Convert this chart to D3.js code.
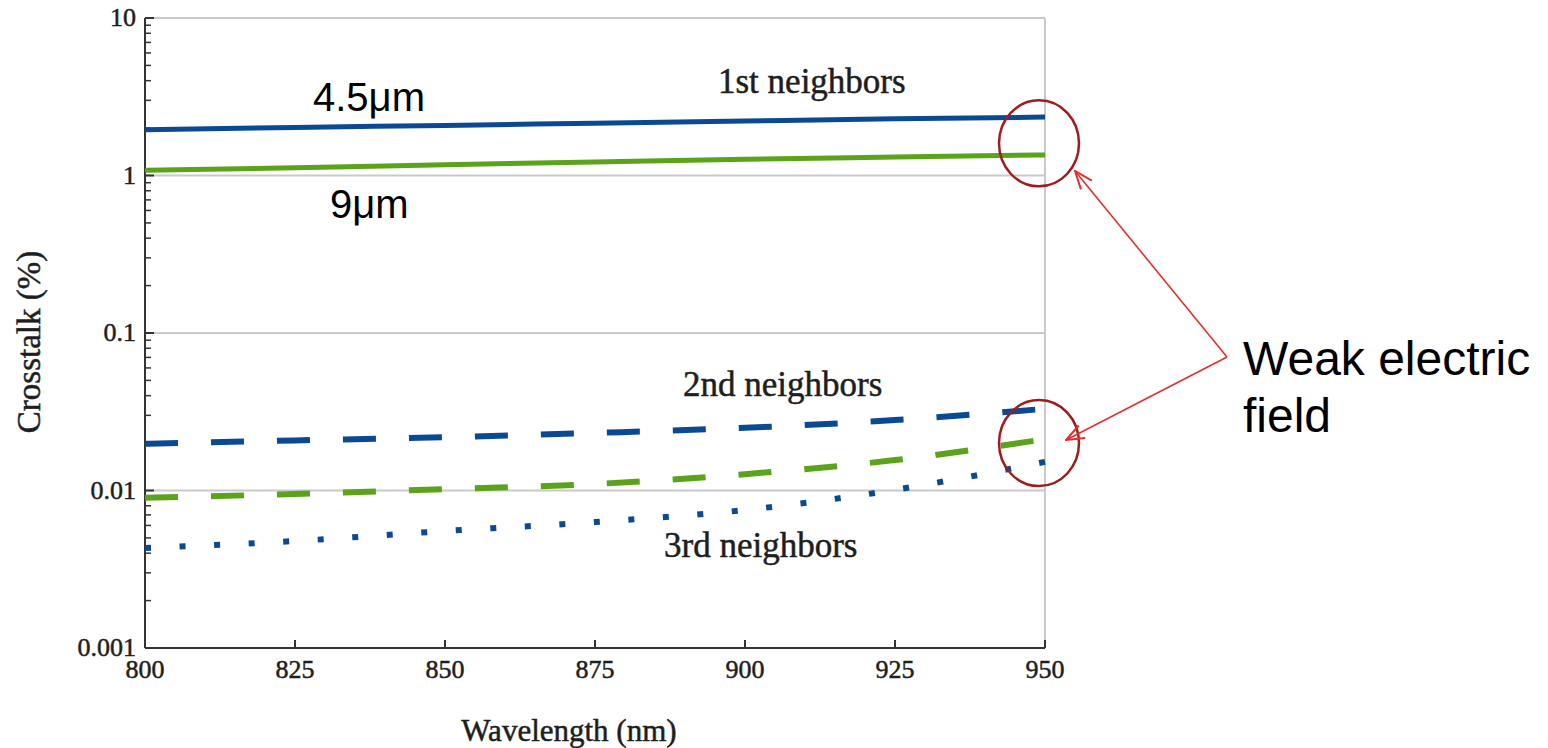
<!DOCTYPE html>
<html>
<head>
<meta charset="utf-8">
<script src="https://cdn.jsdelivr.net/npm/d3@7"></script>
<style>
  html, body { margin: 0; padding: 0; background: #fff; }
  svg { display: block; }
  .serif { font-family: 'Liberation Serif', 'Times New Roman', serif; fill: #1e1e1e; stroke: #1e1e1e; stroke-width: 0.5px; }
  .sans { font-family: 'Liberation Sans', Arial, sans-serif; fill: #000; }
</style>
</head>
<body>
<svg id="chart" width="1548" height="748"></svg>
<script>
// Wavelength samples (nm)
const wavelengths = [800, 825, 850, 875, 900, 925, 950];

// Crosstalk (%) per neighbor order and pixel pitch
const first45 = [1.95, 2.02, 2.08, 2.15, 2.22, 2.29, 2.35];
const first9 = [1.08, 1.12, 1.17, 1.22, 1.27, 1.31, 1.35];
const second45 = [0.0198, 0.0208, 0.0218, 0.0232, 0.0250, 0.0280, 0.0330];
const second9 = [0.0090, 0.0095, 0.0102, 0.0110, 0.0127, 0.0156, 0.0212];
const third45 = [0.00431, 0.00478, 0.00553, 0.0063, 0.00752, 0.0101, 0.0152];

const xTicks = [800, 825, 850, 875, 900, 925, 950];
const yTicks = [0.001, 0.01, 0.1, 1, 10];
const yTickLabels = ["0.001", "0.01", "0.1", "1", "10"];

const svg = d3.select("#chart");
const plotLeft = 145, plotRight = 1045, plotTop = 18, plotBottom = 648;

const x = d3.scaleLinear().domain([800, 950]).range([plotLeft, plotRight]);
const y = d3.scaleLog().domain([0.001, 10]).range([plotBottom, plotTop]);

const blue = "#0b4a93";
const green = "#5aa31b";

// Horizontal decade gridlines
svg.append("g").selectAll("line")
  .data(yTicks.filter(d => d > 0.001))
  .join("line")
  .attr("x1", plotLeft).attr("x2", plotRight)
  .attr("y1", d => y(d)).attr("y2", d => y(d))
  .attr("stroke", "#c9c9c9").attr("stroke-width", 2);

// Right frame line
svg.append("line")
  .attr("x1", x(950)).attr("x2", x(950))
  .attr("y1", plotTop).attr("y2", plotBottom)
  .attr("stroke", "#c9c9c9").attr("stroke-width", 2);

// Y axis: inward ticks, minor ticks at 2..9 per decade
const minor = [];
for (let e = -3; e < 1; e++) {
  for (let m = 2; m <= 9; m++) minor.push(m * Math.pow(10, e));
}
const yAxis = svg.append("g").attr("transform", `translate(${plotLeft},0)`);
yAxis.append("line")
  .attr("x1", 0).attr("x2", 0).attr("y1", plotTop).attr("y2", plotBottom)
  .attr("stroke", "#333").attr("stroke-width", 2);
yAxis.selectAll("line.minor").data(minor).join("line")
  .attr("class", "minor")
  .attr("x1", 0).attr("x2", 6)
  .attr("y1", d => y(d)).attr("y2", d => y(d))
  .attr("stroke", "#333").attr("stroke-width", 1.5);
yAxis.selectAll("line.major").data(yTicks).join("line")
  .attr("class", "major")
  .attr("x1", 0).attr("x2", 9)
  .attr("y1", d => y(d)).attr("y2", d => y(d))
  .attr("stroke", "#333").attr("stroke-width", 2);
yAxis.selectAll("text").data(yTicks).join("text")
  .attr("class", "serif")
  .attr("x", -9).attr("y", d => y(d))
  .attr("dy", "0.32em")
  .attr("text-anchor", "end")
  .attr("font-size", 26)
  .text((d, i) => yTickLabels[i]);

// X axis: inward ticks
const xAxis = svg.append("g").attr("transform", `translate(0,${plotBottom})`);
xAxis.append("line")
  .attr("x1", plotLeft).attr("x2", plotRight).attr("y1", 0).attr("y2", 0)
  .attr("stroke", "#333").attr("stroke-width", 2);
xAxis.selectAll("line.tick").data(xTicks.slice(1)).join("line")
  .attr("class", "tick")
  .attr("x1", d => x(d)).attr("x2", d => x(d))
  .attr("y1", 0).attr("y2", -8)
  .attr("stroke", "#333").attr("stroke-width", 2);
xAxis.selectAll("text").data(xTicks).join("text")
  .attr("class", "serif")
  .attr("x", d => x(d)).attr("y", 30)
  .attr("text-anchor", "middle")
  .attr("font-size", 26)
  .text(d => d);

// Axis titles
svg.append("text")
  .attr("class", "serif")
  .attr("x", 569).attr("y", 741)
  .attr("text-anchor", "middle")
  .attr("font-size", 31)
  .text("Wavelength (nm)");
svg.append("text")
  .attr("class", "serif")
  .attr("transform", "translate(40,342) rotate(-90)")
  .attr("text-anchor", "middle")
  .attr("font-size", 33)
  .text("Crosstalk (%)");

// Series
const line = d3.line()
  .x((d, i) => x(wavelengths[i]))
  .y(d => y(d))
  .curve(d3.curveMonotoneX);

const series = [
  { values: first45, color: blue, width: 5, dash: null },
  { values: first9, color: green, width: 5, dash: null },
  { values: second45, color: blue, width: 6, dash: "33,33" },
  { values: second9, color: green, width: 6, dash: "33,33" },
  { values: third45, color: blue, width: 6, dash: "dots" }
];
const paths = svg.append("g").selectAll("path").data(series).join("path")
  .attr("d", d => line(d.values))
  .attr("fill", "none")
  .attr("stroke", d => d.color)
  .attr("stroke-width", d => d.width);

// Dashes as given; the dotted series spaces 27 dots evenly from end to end
paths.attr("stroke-dasharray", function (d) {
  if (d.dash !== "dots") return d.dash;
  const len = this.getTotalLength();
  const gap = (len - 6) / 26 - 6;
  return `6,${gap}`;
});

// In-plot labels
const labels = [
  { text: "1st neighbors", x: 718, y: 93, cls: "serif", size: 35 },
  { text: "2nd neighbors", x: 683, y: 396, cls: "serif", size: 35 },
  { text: "3rd neighbors", x: 664, y: 557, cls: "serif", size: 35 },
  { text: "4.5μm", x: 313, y: 111, cls: "sans", size: 40 },
  { text: "9μm", x: 330, y: 218, cls: "sans", size: 40 }
];
svg.append("g").selectAll("text").data(labels).join("text")
  .attr("class", d => d.cls)
  .attr("x", d => d.x).attr("y", d => d.y)
  .attr("font-size", d => d.size)
  .text(d => d.text);

// Highlight ellipses at the long-wavelength end
svg.append("g").selectAll("ellipse")
  .data([{ v: 1.6 }, { v: 0.02 }])
  .join("ellipse")
  .attr("cx", x(949)).attr("cy", d => y(d.v))
  .attr("rx", 40).attr("ry", 43)
  .attr("fill", "none").attr("stroke", "#a01b1b").attr("stroke-width", 2.5);

// Callout arrows
const defs = svg.append("defs");
defs.append("marker")
  .attr("id", "head")
  .attr("viewBox", "0 0 20 20")
  .attr("refX", 19).attr("refY", 10)
  .attr("markerWidth", 20).attr("markerHeight", 20)
  .attr("markerUnits", "userSpaceOnUse")
  .attr("orient", "auto")
  .append("path")
  .attr("d", "M1,3 L19,10 L1,17")
  .attr("fill", "none").attr("stroke", "#e2312d").attr("stroke-width", 2);

const origin = [1227, 357];
[[1075, 171], [1066, 440]].forEach(t => {
  svg.append("line")
    .attr("x1", origin[0]).attr("y1", origin[1])
    .attr("x2", t[0]).attr("y2", t[1])
    .attr("stroke", "#e2312d").attr("stroke-width", 1.6)
    .attr("marker-end", "url(#head)");
});

svg.append("text")
  .attr("class", "sans")
  .attr("font-size", 48)
  .selectAll("tspan").data(["Weak electric", "field"]).join("tspan")
  .attr("x", 1243).attr("y", (d, i) => 375 + i * 57)
  .text(d => d);
</script>
</body>
</html>
